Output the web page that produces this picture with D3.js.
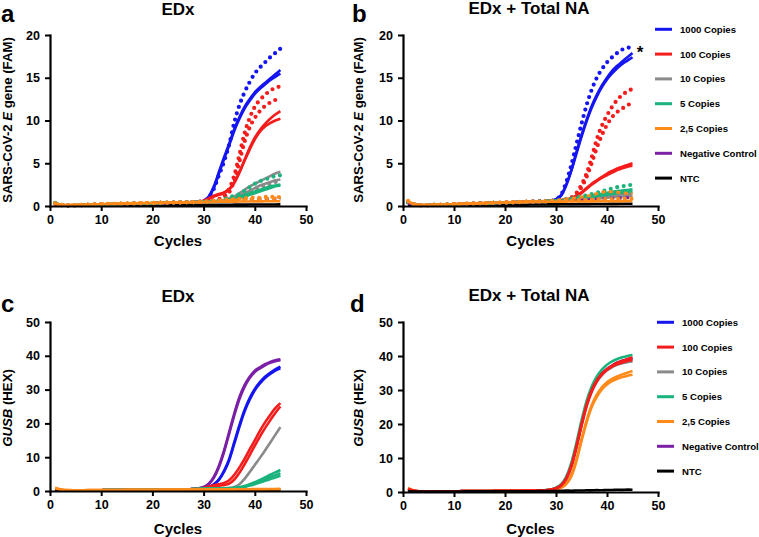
<!DOCTYPE html>
<html><head><meta charset="utf-8">
<script src="https://cdn.jsdelivr.net/npm/d3@7/dist/d3.min.js"></script>
<style>
body{margin:0;background:#fff}
svg{display:block}
text{font-family:"Liberation Sans",Arial,Helvetica,sans-serif;font-weight:bold;fill:#000}
</style>
</head><body>
<svg id="chart" width="759" height="537"></svg>
<script>
// ---------- DATA ----------
const cycles = [1,2,3,4,5,6,7,8,9,10,11,12,13,14,15,16,17,18,19,20,21,22,23,24,25,26,27,28,29,30,31,32,33,34,35,36,37,38,39,40,41,42,43,44,45];
const xTicks = [0,10,20,30,40,50];
const famTicks = [0,5,10,15,20];
const hexTicks = [0,10,20,30,40,50];
const legendLabels = ["1000 Copies","100 Copies","10 Copies","5 Copies","2,5 Copies","Negative Control","NTC"];
const panelTitles = ["EDx","EDx + Total NA","EDx","EDx + Total NA"];
const panelLetters = ["a","b","c","d"];

// Panel a: EDx, SARS-CoV-2 E gene (FAM)
const aBlueDot  = [0.3,0.12,0.06,0.06,0.08,0.1,0.12,0.14,0.16,0.18,0.2,0.21,0.23,0.24,0.26,0.27,0.29,0.3,0.32,0.33,0.35,0.36,0.38,0.39,0.41,0.42,0.44,0.46,0.5,0.6,1.0,2.0,3.6,5.2,7.2,9.8,11.8,13.3,14.5,15.5,16.2,16.8,17.4,17.9,18.4];
const aBlue1    = [0.3,0.14,0.07,0.06,0.08,0.1,0.12,0.14,0.16,0.18,0.2,0.21,0.23,0.24,0.26,0.27,0.29,0.3,0.32,0.33,0.35,0.36,0.38,0.39,0.41,0.42,0.44,0.46,0.5,0.6,1.1,2.3,4.0,5.7,7.3,9.0,10.4,11.6,12.5,13.3,13.9,14.4,14.9,15.4,15.9];
const aBlue2    = [0.28,0.13,0.07,0.06,0.08,0.1,0.12,0.14,0.16,0.18,0.2,0.21,0.23,0.24,0.26,0.27,0.29,0.3,0.32,0.33,0.35,0.36,0.38,0.39,0.41,0.42,0.43,0.45,0.5,0.6,1.0,2.1,3.8,5.5,7.1,8.8,10.2,11.4,12.3,13.1,13.7,14.2,14.7,15.1,15.5];
const aRedDot1  = [0.3,0.14,0.08,0.07,0.09,0.11,0.13,0.15,0.17,0.19,0.2,0.22,0.23,0.25,0.26,0.28,0.29,0.31,0.32,0.34,0.35,0.37,0.38,0.4,0.41,0.43,0.44,0.45,0.48,0.5,0.55,0.65,0.8,1.2,2.0,3.6,6.0,8.5,10.3,11.6,12.4,13.0,13.5,13.8,14.0];
const aRedDot2  = [0.28,0.13,0.07,0.07,0.09,0.11,0.13,0.15,0.17,0.19,0.2,0.22,0.23,0.25,0.26,0.28,0.29,0.31,0.32,0.34,0.35,0.37,0.38,0.4,0.41,0.43,0.44,0.45,0.47,0.5,0.55,0.6,0.7,1.0,1.6,3.0,5.2,7.5,9.2,10.3,11.1,11.7,12.1,12.4,12.6];
const aRed1     = [0.3,0.14,0.07,0.06,0.08,0.1,0.12,0.14,0.16,0.18,0.2,0.21,0.23,0.24,0.26,0.27,0.29,0.3,0.32,0.33,0.35,0.36,0.38,0.39,0.41,0.42,0.44,0.46,0.5,0.6,0.9,1.2,1.4,1.6,2.0,2.8,4.0,5.4,6.8,8.0,8.9,9.6,10.2,10.7,11.1];
const aRed2     = [0.29,0.13,0.07,0.06,0.08,0.1,0.12,0.14,0.16,0.18,0.2,0.21,0.23,0.24,0.26,0.27,0.29,0.3,0.32,0.33,0.35,0.36,0.38,0.39,0.41,0.42,0.44,0.46,0.5,0.6,0.8,1.1,1.3,1.5,1.9,2.7,3.9,5.3,6.6,7.8,8.7,9.3,9.7,10.0,10.2];
const aGray1    = [0.3,0.14,0.08,0.07,0.09,0.11,0.13,0.15,0.17,0.19,0.2,0.22,0.23,0.25,0.26,0.28,0.29,0.31,0.32,0.34,0.35,0.37,0.38,0.4,0.41,0.43,0.44,0.45,0.47,0.5,0.52,0.55,0.6,0.7,0.9,1.1,1.5,1.9,2.3,2.6,2.9,3.2,3.5,3.8,4.0];
const aGray2    = [0.3,0.14,0.08,0.07,0.09,0.11,0.13,0.15,0.17,0.19,0.2,0.22,0.23,0.25,0.26,0.28,0.29,0.31,0.32,0.34,0.35,0.37,0.38,0.4,0.41,0.43,0.44,0.45,0.47,0.5,0.52,0.55,0.6,0.65,0.75,0.9,1.2,1.5,1.8,2.1,2.4,2.6,2.8,3.0,3.1];
const aGrayDot  = [0.3,0.14,0.08,0.07,0.09,0.11,0.13,0.15,0.17,0.19,0.2,0.22,0.23,0.25,0.26,0.28,0.29,0.31,0.32,0.34,0.35,0.37,0.38,0.4,0.41,0.43,0.44,0.45,0.47,0.5,0.52,0.55,0.6,0.65,0.7,0.85,1.1,1.4,1.7,2.0,2.2,2.4,2.6,2.8,2.9];
const aGreenDot = [0.38,0.16,0.09,0.08,0.1,0.12,0.14,0.16,0.18,0.2,0.22,0.23,0.25,0.26,0.28,0.29,0.31,0.32,0.34,0.35,0.37,0.38,0.4,0.41,0.43,0.44,0.45,0.45,0.47,0.5,0.52,0.55,0.6,0.8,1.0,1.2,1.4,1.8,2.2,2.6,2.9,3.1,3.3,3.5,3.6];
const aGreen1   = [0.35,0.15,0.08,0.07,0.09,0.11,0.13,0.15,0.17,0.19,0.2,0.22,0.23,0.25,0.26,0.28,0.29,0.31,0.32,0.34,0.35,0.37,0.38,0.4,0.41,0.43,0.44,0.45,0.47,0.5,0.52,0.55,0.6,0.65,0.75,0.9,1.1,1.3,1.5,1.7,1.9,2.1,2.3,2.4,2.5];
const aGreen2   = [0.33,0.15,0.08,0.07,0.09,0.11,0.13,0.15,0.17,0.19,0.2,0.22,0.23,0.25,0.26,0.28,0.29,0.31,0.32,0.34,0.35,0.37,0.38,0.4,0.41,0.43,0.44,0.45,0.47,0.5,0.52,0.55,0.58,0.62,0.7,0.8,0.95,1.1,1.3,1.5,1.7,1.9,2.1,2.3,2.4];
const aOrangeDot= [0.32,0.15,0.1,0.1,0.12,0.14,0.16,0.18,0.2,0.22,0.24,0.25,0.27,0.28,0.3,0.31,0.33,0.34,0.36,0.37,0.38,0.39,0.4,0.41,0.42,0.43,0.44,0.45,0.48,0.5,0.55,0.6,0.65,0.7,0.75,0.8,0.85,0.9,0.95,1.0,0.95,1.05,1.1,1.0,1.05];
const aOrangeDash=[0.3,0.14,0.09,0.1,0.12,0.14,0.16,0.18,0.2,0.22,0.24,0.25,0.27,0.28,0.3,0.31,0.33,0.34,0.35,0.36,0.37,0.38,0.39,0.4,0.41,0.42,0.43,0.44,0.46,0.5,0.5,0.55,0.6,0.6,0.65,0.7,0.7,0.75,0.8,0.8,0.85,0.9,0.85,0.9,0.9];
const aOrange1  = [0.3,0.14,0.09,0.1,0.12,0.14,0.16,0.18,0.2,0.22,0.24,0.25,0.27,0.28,0.3,0.31,0.33,0.34,0.35,0.36,0.37,0.38,0.39,0.4,0.41,0.42,0.43,0.44,0.45,0.46,0.47,0.48,0.49,0.5,0.5,0.51,0.52,0.52,0.53,0.54,0.54,0.55,0.55,0.56,0.56];
const aPurple   = [0.25,0.12,0.07,0.07,0.09,0.11,0.13,0.15,0.17,0.19,0.2,0.22,0.23,0.25,0.26,0.28,0.29,0.31,0.32,0.34,0.35,0.37,0.38,0.4,0.41,0.42,0.43,0.44,0.46,0.48,0.5,0.52,0.55,0.58,0.6,0.63,0.66,0.7,0.73,0.76,0.8,0.83,0.86,0.9,0.92];
const aBlack    = [0.1,0.06,0.05,0.05,0.05,0.06,0.06,0.06,0.07,0.07,0.07,0.08,0.08,0.08,0.09,0.09,0.09,0.1,0.1,0.1,0.11,0.11,0.11,0.12,0.12,0.12,0.13,0.13,0.13,0.14,0.14,0.14,0.15,0.15,0.15,0.16,0.16,0.16,0.17,0.17,0.17,0.18,0.18,0.18,0.19];

// Panel b: EDx + Total NA, SARS-CoV-2 E gene (FAM)
const bBlueDot  = [0.45,0.2,0.1,0.08,0.1,0.12,0.14,0.16,0.18,0.2,0.22,0.24,0.26,0.28,0.3,0.32,0.34,0.36,0.38,0.4,0.42,0.44,0.46,0.48,0.5,0.52,0.54,0.56,0.6,0.8,1.3,2.8,4.8,7.2,9.6,11.8,13.6,15.0,16.0,16.8,17.4,17.9,18.3,18.5,18.6];
const bBlue1    = [0.45,0.2,0.1,0.08,0.1,0.12,0.14,0.16,0.18,0.2,0.22,0.24,0.26,0.28,0.3,0.32,0.34,0.36,0.38,0.4,0.42,0.44,0.46,0.48,0.5,0.52,0.54,0.56,0.6,0.8,1.3,2.5,4.2,6.3,8.3,10.1,11.7,13.0,14.1,15.0,15.8,16.4,16.9,17.4,17.9];
const bBlue2    = [0.42,0.19,0.1,0.08,0.1,0.12,0.14,0.16,0.18,0.2,0.22,0.24,0.26,0.28,0.3,0.32,0.34,0.36,0.38,0.4,0.42,0.44,0.46,0.48,0.5,0.52,0.54,0.56,0.6,0.78,1.2,2.4,4.1,6.1,8.1,9.9,11.5,12.8,13.9,14.8,15.5,16.1,16.6,17.0,17.4];
const bRedDot1  = [0.45,0.2,0.1,0.08,0.1,0.12,0.14,0.16,0.18,0.2,0.22,0.24,0.26,0.28,0.3,0.32,0.34,0.36,0.38,0.4,0.42,0.44,0.46,0.48,0.5,0.52,0.54,0.56,0.6,0.63,0.7,0.8,1.0,1.5,2.5,3.8,5.7,7.8,9.4,10.6,11.6,12.4,13.0,13.4,13.7];
const bRedDot2  = [0.44,0.2,0.1,0.08,0.1,0.12,0.14,0.16,0.18,0.2,0.22,0.24,0.26,0.28,0.3,0.32,0.34,0.36,0.38,0.4,0.42,0.44,0.46,0.48,0.5,0.52,0.54,0.56,0.58,0.62,0.68,0.75,0.9,1.3,2.2,3.4,5.0,6.8,8.3,9.5,10.4,11.0,11.4,11.8,12.0];
const bRed1     = [0.45,0.2,0.1,0.08,0.1,0.12,0.14,0.16,0.18,0.2,0.22,0.24,0.26,0.28,0.3,0.32,0.34,0.36,0.38,0.4,0.42,0.44,0.46,0.48,0.5,0.52,0.54,0.56,0.6,0.64,0.7,0.8,0.9,1.2,1.6,2.1,2.6,3.0,3.4,3.8,4.1,4.4,4.6,4.8,5.0];
const bRed2     = [0.44,0.2,0.1,0.08,0.1,0.12,0.14,0.16,0.18,0.2,0.22,0.24,0.26,0.28,0.3,0.32,0.34,0.36,0.38,0.4,0.42,0.44,0.46,0.48,0.5,0.52,0.54,0.56,0.6,0.63,0.68,0.76,0.86,1.1,1.5,2.0,2.5,2.9,3.3,3.6,3.9,4.2,4.4,4.6,4.7];
const bGray1    = [0.42,0.19,0.1,0.08,0.1,0.12,0.14,0.16,0.18,0.2,0.22,0.24,0.26,0.28,0.3,0.32,0.34,0.36,0.38,0.4,0.42,0.44,0.46,0.48,0.5,0.52,0.54,0.56,0.58,0.6,0.63,0.66,0.7,0.75,0.8,0.86,0.92,1.0,1.08,1.15,1.22,1.3,1.36,1.42,1.48];
const bGray2    = [0.4,0.18,0.1,0.08,0.1,0.12,0.14,0.16,0.18,0.2,0.22,0.24,0.26,0.28,0.3,0.32,0.34,0.36,0.38,0.4,0.42,0.44,0.46,0.48,0.5,0.52,0.54,0.55,0.57,0.59,0.61,0.64,0.67,0.7,0.74,0.78,0.82,0.87,0.92,0.97,1.02,1.07,1.12,1.16,1.2];
const bGreenDot = [0.45,0.2,0.1,0.08,0.1,0.12,0.14,0.16,0.18,0.2,0.22,0.24,0.26,0.28,0.3,0.32,0.34,0.36,0.38,0.4,0.42,0.44,0.46,0.48,0.5,0.52,0.54,0.56,0.6,0.64,0.7,0.78,0.88,1.0,1.12,1.25,1.4,1.55,1.7,1.9,2.05,2.2,2.3,2.4,2.5];
const bGreen1   = [0.44,0.2,0.1,0.08,0.1,0.12,0.14,0.16,0.18,0.2,0.22,0.24,0.26,0.28,0.3,0.32,0.34,0.36,0.38,0.4,0.42,0.44,0.46,0.48,0.5,0.52,0.54,0.56,0.6,0.64,0.68,0.74,0.82,0.9,1.0,1.1,1.2,1.32,1.44,1.55,1.65,1.74,1.82,1.88,1.94];
const bGreen2   = [0.42,0.19,0.1,0.08,0.1,0.12,0.14,0.16,0.18,0.2,0.22,0.24,0.26,0.28,0.3,0.32,0.34,0.36,0.38,0.4,0.42,0.44,0.46,0.48,0.5,0.52,0.54,0.56,0.58,0.62,0.66,0.7,0.76,0.83,0.9,0.98,1.06,1.15,1.24,1.33,1.42,1.5,1.58,1.65,1.7];
const bOrangeDash=[0.55,0.25,0.12,0.1,0.12,0.14,0.16,0.18,0.2,0.22,0.24,0.26,0.28,0.3,0.32,0.34,0.36,0.38,0.4,0.42,0.44,0.46,0.48,0.5,0.52,0.53,0.54,0.56,0.6,0.65,0.7,0.78,0.86,0.95,1.05,1.15,1.3,1.45,1.6,1.72,1.65,1.6,1.55,1.5,1.5];
const bOrangeDot= [0.6,0.26,0.12,0.1,0.12,0.14,0.16,0.18,0.2,0.22,0.24,0.26,0.28,0.3,0.32,0.34,0.36,0.38,0.4,0.42,0.44,0.46,0.48,0.5,0.51,0.52,0.53,0.54,0.56,0.58,0.6,0.62,0.64,0.66,0.7,0.72,0.74,0.76,0.78,0.8,0.82,0.84,0.85,0.86,0.88];
const bOrange1  = [0.5,0.22,0.11,0.1,0.12,0.14,0.16,0.18,0.2,0.22,0.24,0.26,0.28,0.3,0.32,0.34,0.36,0.38,0.4,0.42,0.43,0.44,0.45,0.46,0.47,0.48,0.49,0.5,0.5,0.51,0.51,0.52,0.52,0.53,0.53,0.54,0.54,0.55,0.55,0.56,0.56,0.57,0.57,0.58,0.58];
const bPurple   = [0.35,0.17,0.1,0.08,0.1,0.12,0.14,0.16,0.18,0.2,0.22,0.24,0.26,0.28,0.3,0.32,0.34,0.36,0.38,0.4,0.42,0.44,0.46,0.48,0.5,0.51,0.52,0.54,0.56,0.58,0.6,0.62,0.65,0.68,0.7,0.73,0.76,0.8,0.83,0.86,0.9,0.92,0.95,0.97,1.0];
const bBlack    = [0.12,0.08,0.06,0.06,0.07,0.07,0.08,0.08,0.09,0.09,0.1,0.1,0.11,0.11,0.12,0.12,0.13,0.13,0.14,0.14,0.15,0.15,0.16,0.16,0.17,0.17,0.18,0.18,0.19,0.19,0.2,0.2,0.21,0.21,0.22,0.22,0.23,0.23,0.24,0.24,0.25,0.25,0.26,0.26,0.27];

// Panel c: EDx, GUSB (HEX)
const cPurple1 = [0.5,0.3,0.2,0.18,0.18,0.2,0.2,0.22,0.22,0.24,0.25,0.26,0.27,0.28,0.3,0.31,0.32,0.33,0.35,0.36,0.37,0.38,0.4,0.42,0.44,0.46,0.5,0.55,0.8,1.2,2.2,4.2,7.5,12.0,17.5,23.0,27.8,31.3,33.8,35.6,36.6,37.5,38.2,38.7,39.0];
const cPurple2 = [0.5,0.3,0.2,0.18,0.18,0.2,0.2,0.22,0.22,0.24,0.25,0.26,0.27,0.28,0.3,0.31,0.32,0.33,0.35,0.36,0.37,0.38,0.4,0.42,0.44,0.46,0.5,0.55,0.75,1.1,2.0,3.9,7.1,11.6,17.0,22.4,27.2,30.8,33.4,35.2,36.3,37.2,37.9,38.4,38.7];
const cBlue1   = [0.5,0.3,0.2,0.18,0.18,0.2,0.2,0.22,0.22,0.24,0.25,0.26,0.27,0.28,0.3,0.31,0.32,0.33,0.35,0.36,0.37,0.38,0.4,0.42,0.44,0.46,0.5,0.55,0.65,0.8,1.2,2.0,3.5,6.0,9.5,14.5,19.5,24.0,27.5,30.2,32.2,33.8,35.0,36.0,36.8];
const cBlue2   = [0.5,0.3,0.2,0.18,0.18,0.2,0.2,0.22,0.22,0.24,0.25,0.26,0.27,0.28,0.3,0.31,0.32,0.33,0.35,0.36,0.37,0.38,0.4,0.42,0.44,0.46,0.5,0.55,0.65,0.8,1.1,1.9,3.3,5.7,9.1,14.0,19.0,23.5,27.0,29.8,31.8,33.4,34.6,35.6,36.3];
const cRed1    = [0.5,0.3,0.2,0.18,0.18,0.2,0.2,0.22,0.22,0.24,0.25,0.26,0.27,0.28,0.3,0.31,0.32,0.33,0.35,0.36,0.37,0.38,0.4,0.42,0.44,0.46,0.5,0.55,0.7,0.9,1.3,1.7,2.0,2.4,3.2,4.8,7.0,9.5,12.3,15.0,17.8,20.3,22.5,24.5,26.0];
const cRed2    = [0.5,0.3,0.2,0.18,0.18,0.2,0.2,0.22,0.22,0.24,0.25,0.26,0.27,0.28,0.3,0.31,0.32,0.33,0.35,0.36,0.37,0.38,0.4,0.42,0.44,0.46,0.5,0.55,0.65,0.8,1.1,1.4,1.6,1.8,2.2,3.4,5.4,7.9,10.6,13.4,16.1,18.6,20.9,23.1,25.0];
const cGray    = [0.5,0.3,0.2,0.18,0.18,0.2,0.2,0.22,0.22,0.24,0.25,0.26,0.27,0.28,0.3,0.31,0.32,0.33,0.35,0.36,0.37,0.38,0.4,0.42,0.44,0.46,0.5,0.55,0.6,0.65,0.7,0.75,0.8,0.85,0.95,1.2,2.0,3.6,5.6,7.7,9.8,12.0,14.3,16.6,18.9];
const cGreen1  = [0.5,0.3,0.2,0.18,0.18,0.2,0.2,0.22,0.22,0.24,0.25,0.26,0.27,0.28,0.3,0.31,0.32,0.33,0.35,0.36,0.37,0.38,0.4,0.42,0.44,0.46,0.5,0.55,0.6,0.65,0.7,0.72,0.75,0.78,0.82,0.9,1.1,1.5,2.0,2.6,3.3,4.0,4.8,5.5,6.2];
const cGreen2  = [0.5,0.3,0.2,0.18,0.18,0.2,0.2,0.22,0.22,0.24,0.25,0.26,0.27,0.28,0.3,0.31,0.32,0.33,0.35,0.36,0.37,0.38,0.4,0.42,0.44,0.46,0.5,0.55,0.6,0.63,0.67,0.7,0.72,0.75,0.8,0.87,1.0,1.35,1.8,2.3,2.9,3.5,4.1,4.7,5.3];
const cGreen3  = [0.5,0.3,0.2,0.18,0.18,0.2,0.2,0.22,0.22,0.24,0.25,0.26,0.27,0.28,0.3,0.31,0.32,0.33,0.35,0.36,0.37,0.38,0.4,0.42,0.44,0.46,0.5,0.55,0.58,0.62,0.65,0.68,0.7,0.73,0.77,0.83,0.95,1.2,1.6,2.0,2.5,3.0,3.5,4.0,4.6];
const cOrange1 = [1.0,0.5,0.3,0.25,0.24,0.24,0.25,0.26,0.27,0.28,0.29,0.3,0.31,0.32,0.33,0.34,0.35,0.36,0.37,0.38,0.39,0.4,0.41,0.42,0.43,0.44,0.45,0.46,0.47,0.48,0.49,0.5,0.5,0.51,0.52,0.52,0.53,0.54,0.54,0.55,0.56,0.56,0.57,0.58,0.58];
const cOrange2 = [0.8,0.4,0.25,0.22,0.22,0.23,0.24,0.25,0.26,0.27,0.28,0.29,0.3,0.31,0.32,0.33,0.34,0.35,0.36,0.37,0.38,0.39,0.4,0.4,0.41,0.42,0.42,0.43,0.44,0.45,0.46,0.46,0.47,0.48,0.48,0.49,0.5,0.5,0.51,0.52,0.52,0.53,0.54,0.54,0.55];
const cBlack   = [0.2,0.15,0.12,0.12,0.12,0.13,0.13,0.14,0.14,0.15,0.15,0.16,0.16,0.17,0.17,0.18,0.18,0.19,0.19,0.2,0.2,0.21,0.21,0.22,0.22,0.23,0.23,0.24,0.24,0.25,0.25,0.26,0.26,0.27,0.27,0.28,0.28,0.29,0.29,0.3,0.3,0.31,0.31,0.32,0.32];

// Panel d: EDx + Total NA, GUSB (HEX)
const dGreen   = [0.9,0.4,0.2,0.15,0.15,0.18,0.2,0.2,0.22,0.22,0.24,0.25,0.26,0.27,0.28,0.3,0.31,0.32,0.33,0.35,0.36,0.37,0.38,0.4,0.42,0.44,0.47,0.55,0.75,1.3,2.3,4.5,8.6,14.5,21.0,26.8,31.0,34.0,36.0,37.4,38.4,39.1,39.6,40.0,40.3];
const dBlue    = [0.9,0.4,0.2,0.15,0.15,0.18,0.2,0.2,0.22,0.22,0.24,0.25,0.26,0.27,0.28,0.3,0.31,0.32,0.33,0.35,0.36,0.37,0.38,0.4,0.42,0.44,0.47,0.52,0.7,1.15,2.0,4.0,7.8,13.5,20.0,25.8,30.0,32.9,34.8,36.2,37.2,38.0,38.6,39.0,39.3];
const dGray    = [0.9,0.4,0.2,0.15,0.15,0.18,0.2,0.2,0.22,0.22,0.24,0.25,0.26,0.27,0.28,0.3,0.31,0.32,0.33,0.35,0.36,0.37,0.38,0.4,0.42,0.44,0.47,0.52,0.7,1.1,1.9,3.8,7.6,13.2,19.6,25.4,29.6,32.5,34.4,35.8,36.7,37.4,37.9,38.2,38.4];
const dRed1    = [0.9,0.4,0.2,0.15,0.15,0.18,0.2,0.2,0.22,0.22,0.24,0.25,0.26,0.27,0.28,0.3,0.31,0.32,0.33,0.35,0.36,0.37,0.38,0.4,0.42,0.44,0.47,0.52,0.7,1.1,2.0,4.0,7.8,13.5,20.0,25.8,30.0,32.9,34.8,36.2,37.2,38.0,38.6,39.1,39.6];
const dRed2    = [0.9,0.4,0.2,0.15,0.15,0.18,0.2,0.2,0.22,0.22,0.24,0.25,0.26,0.27,0.28,0.3,0.31,0.32,0.33,0.35,0.36,0.37,0.38,0.4,0.42,0.44,0.47,0.5,0.68,1.05,1.9,3.8,7.4,13.0,19.4,25.2,29.5,32.5,34.5,35.9,36.9,37.6,38.1,38.5,38.8];
const dOrange1 = [1.2,0.5,0.25,0.18,0.16,0.18,0.2,0.2,0.22,0.22,0.24,0.25,0.26,0.27,0.28,0.3,0.31,0.32,0.33,0.35,0.36,0.37,0.38,0.4,0.42,0.44,0.47,0.5,0.65,0.9,1.3,2.5,5.0,9.5,15.5,21.0,25.5,28.6,30.8,32.3,33.3,34.0,34.6,35.1,35.6];
const dOrange2 = [1.0,0.45,0.22,0.16,0.15,0.18,0.2,0.2,0.22,0.22,0.24,0.25,0.26,0.27,0.28,0.3,0.31,0.32,0.33,0.35,0.36,0.37,0.38,0.4,0.42,0.44,0.47,0.5,0.63,0.85,1.2,2.3,4.6,9.0,15.0,20.5,25.0,28.0,30.2,31.6,32.6,33.3,33.8,34.2,34.5];
const dBlack   = [0.2,0.15,0.13,0.13,0.13,0.14,0.14,0.15,0.15,0.16,0.16,0.17,0.17,0.18,0.18,0.19,0.19,0.2,0.2,0.21,0.21,0.22,0.22,0.23,0.23,0.24,0.25,0.26,0.27,0.3,0.35,0.4,0.38,0.45,0.42,0.5,0.48,0.55,0.52,0.6,0.58,0.65,0.62,0.7,0.68];

// ---------- STYLE ----------
const colors = {blue:"#1515f2", red:"#f51c1c", gray:"#8a8a8a", green:"#1ab37c", orange:"#ff8a1a", purple:"#7a1fa6", black:"#000000"};
const legendColors = [colors.blue, colors.red, colors.gray, colors.green, colors.orange, colors.purple, colors.black];

const panels = [
  {x0:50, x1:306, y0:206, y1:35, ymax:20, ticks:famTicks, title:panelTitles[0], titleX:178, titleY:15,
   letter:panelLetters[0], letterX:1, letterY:22, ylabX:12, ylabY:120, fam:true, cyclesY:246,
   series:[
    {v:aBlack,c:"black",s:"solid"},{v:aPurple,c:"purple",s:"dash"},
    {v:aBlue1,c:"blue",s:"solid"},{v:aBlue2,c:"blue",s:"solid"},{v:aBlueDot,c:"blue",s:"dot"},
    {v:aRed1,c:"red",s:"solid"},{v:aRed2,c:"red",s:"solid"},{v:aRedDot1,c:"red",s:"dot"},{v:aRedDot2,c:"red",s:"dot"},
    {v:aGray1,c:"gray",s:"solid"},{v:aGray2,c:"gray",s:"solid"},{v:aGrayDot,c:"gray",s:"dot"},
    {v:aGreen1,c:"green",s:"solid"},{v:aGreen2,c:"green",s:"solid"},{v:aGreenDot,c:"green",s:"dot"},
    {v:aOrange1,c:"orange",s:"solid"},{v:aOrangeDash,c:"orange",s:"dash"},{v:aOrangeDot,c:"orange",s:"dot"}
   ]},
  {x0:403, x1:658, y0:206, y1:35, ymax:20, ticks:famTicks, title:panelTitles[1], titleX:529, titleY:14,
   letter:panelLetters[1], letterX:352, letterY:22, ylabX:363, ylabY:120, fam:true, cyclesY:246,
   legendX:655, legendY:29.3, star:true,
   series:[
    {v:bBlack,c:"black",s:"solid"},
    {v:bBlue1,c:"blue",s:"solid"},{v:bBlue2,c:"blue",s:"solid"},{v:bBlueDot,c:"blue",s:"dot"},
    {v:bRed1,c:"red",s:"solid"},{v:bRed2,c:"red",s:"solid"},{v:bRedDot1,c:"red",s:"dot"},{v:bRedDot2,c:"red",s:"dot"},
    {v:bGray1,c:"gray",s:"solid"},{v:bGray2,c:"gray",s:"solid"},
    {v:bGreen1,c:"green",s:"solid"},{v:bGreen2,c:"green",s:"solid"},{v:bGreenDot,c:"green",s:"dot"},
    {v:bPurple,c:"purple",s:"dash"},
    {v:bOrange1,c:"orange",s:"solid"},{v:bOrangeDot,c:"orange",s:"dot"},{v:bOrangeDash,c:"orange",s:"dash"}
   ]},
  {x0:50, x1:306, y0:491, y1:322, ymax:50, ticks:hexTicks, title:panelTitles[2], titleX:178, titleY:302,
   letter:panelLetters[2], letterX:1, letterY:312, ylabX:12, ylabY:408, fam:false, cyclesY:534,
   series:[
    {v:cBlue1,c:"blue",s:"solid"},{v:cBlue2,c:"blue",s:"solid"},
    {v:cPurple1,c:"purple",s:"solid"},{v:cPurple2,c:"purple",s:"solid"},
    {v:cRed1,c:"red",s:"solid"},{v:cRed2,c:"red",s:"solid"},
    {v:cGray,c:"gray",s:"solid"},
    {v:cGreen1,c:"green",s:"solid"},{v:cGreen2,c:"green",s:"solid"},{v:cGreen3,c:"green",s:"solid"},
    {v:cBlack,c:"black",s:"solid"},
    {v:cOrange1,c:"orange",s:"solid"},{v:cOrange2,c:"orange",s:"solid"}
   ]},
  {x0:403, x1:658, y0:492, y1:322, ymax:50, ticks:hexTicks, title:panelTitles[3], titleX:529, titleY:301,
   letter:panelLetters[3], letterX:350, letterY:312, ylabX:363, ylabY:408, fam:false, cyclesY:534,
   legendX:657, legendY:322.3,
   series:[
    {v:dBlue,c:"blue",s:"solid"},{v:dGray,c:"gray",s:"solid"},{v:dGreen,c:"green",s:"solid"},
    {v:dOrange1,c:"orange",s:"solid"},{v:dOrange2,c:"orange",s:"solid"},
    {v:dRed1,c:"red",s:"solid"},{v:dRed2,c:"red",s:"solid"},
    {v:dBlack,c:"black",s:"solid"}
   ]}
];

const svg = d3.select("#chart");

panels.forEach(p => {
  const x = d3.scaleLinear().domain([0,50]).range([p.x0,p.x1]);
  const y = d3.scaleLinear().domain([0,p.ymax]).range([p.y0,p.y1]);
  const g = svg.append("g");

  const line = d3.line().x((d,i)=>x(cycles[i])).y(d=>y(d)).curve(d3.curveMonotoneX);
  g.selectAll("path.curve").data(p.series).join("path")
    .attr("class","curve")
    .attr("d", d=>line(d.v))
    .attr("fill","none")
    .attr("stroke", d=>colors[d.c])
    .attr("stroke-width", d=> d.s==="dot" ? 4.2 : (d.s==="dash" ? 3 : 2.6))
    .attr("stroke-linecap", d=> d.s==="dot" ? "round" : "butt")
    .attr("stroke-linejoin","round")
    .attr("stroke-dasharray", d=> d.s==="dot" ? "0 6.6" : (d.s==="dash" ? "4 3.5" : null));

  // axes
  const xa = g.append("g").attr("transform",`translate(0,${p.y0})`)
    .call(d3.axisBottom(x).tickValues(xTicks).tickSize(5).tickSizeOuter(0).tickPadding(4));
  const ya = g.append("g").attr("transform",`translate(${p.x0},0)`)
    .call(d3.axisLeft(y).tickValues(p.ticks).tickSize(5).tickSizeOuter(0).tickPadding(5));
  [xa,ya].forEach(a=>{
    a.select(".domain").attr("stroke","#000").attr("stroke-width",2.2).attr("stroke-linecap","square");
    a.selectAll(".tick line").attr("stroke","#000").attr("stroke-width",2);
    a.selectAll(".tick text").attr("font-size",12.5).attr("font-weight","bold")
      .attr("font-family",'"Liberation Sans",Arial,sans-serif').attr("fill","#000");
  });

  // title
  g.append("text").attr("x",p.titleX).attr("y",p.titleY).attr("text-anchor","middle")
    .attr("font-size",17).text(p.title);
  // panel letter
  g.append("text").attr("x",p.letterX).attr("y",p.letterY).attr("font-size",24).text(p.letter);
  // x label
  g.append("text").attr("x",(p.x0+p.x1)/2).attr("y",p.cyclesY).attr("text-anchor","middle")
    .attr("font-size",15).text("Cycles");
  // y label
  const yl = g.append("text").attr("transform",`translate(${p.ylabX},${p.ylabY}) rotate(-90)`)
    .attr("text-anchor","middle").attr("font-size",13.2);
  if (p.fam) {
    yl.append("tspan").text("SARS-CoV-2 ");
    yl.append("tspan").attr("font-style","italic").text("E");
    yl.append("tspan").text(" gene (FAM)");
  } else {
    yl.append("tspan").attr("font-style","italic").text("GUSB");
    yl.append("tspan").text(" (HEX)");
  }
  if (p.star) {
    g.append("text").attr("x",640).attr("y",58).attr("text-anchor","middle").attr("font-size",17).text("*");
  }
  if (p.legendX !== undefined) {
    const lg = g.append("g");
    legendLabels.forEach((lab,i)=>{
      const yy = p.legendY + i*24.8;
      lg.append("line").attr("x1",p.legendX).attr("x2",p.legendX+17).attr("y1",yy).attr("y2",yy)
        .attr("stroke",legendColors[i]).attr("stroke-width",3);
      lg.append("text").attr("x",p.legendX+25).attr("y",yy+3.5).attr("font-size",9.6).text(lab);
    });
  }
});
</script>
</body></html>
